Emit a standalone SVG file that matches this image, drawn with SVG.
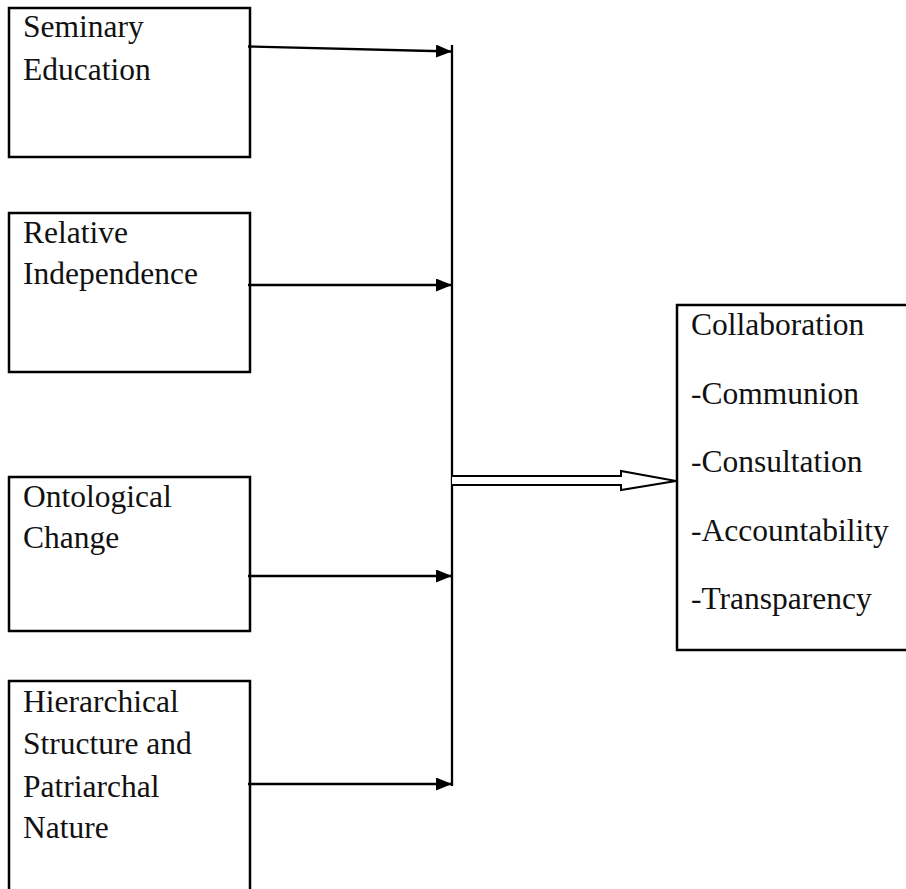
<svg xmlns="http://www.w3.org/2000/svg" width="906" height="889" viewBox="0 0 906 889">
<style>
.box{fill:#fff;stroke:#000;stroke-width:2.5}
.t{font-family:"Liberation Serif","Times New Roman",serif;font-size:31.5px;fill:#111}
.c{stroke:#000;stroke-width:2.3;fill:none}
</style>
<defs>
<marker id="ah" markerWidth="17" markerHeight="14" refX="16" refY="6.5" orient="auto" markerUnits="userSpaceOnUse">
<path d="M0,0 L16,6.5 L0,13 Z" fill="#000"/>
</marker>
</defs>
<rect width="906" height="889" fill="#fff"/>
<g id="n1"><rect class="box" x="9" y="8" width="241" height="149"/>
<text class="t" x="23" y="37">Seminary</text><text class="t" x="23" y="80">Education</text></g>
<g id="n2"><rect class="box" x="9" y="213" width="241" height="159"/>
<text class="t" x="23" y="243">Relative</text><text class="t" x="23" y="284">Independence</text></g>
<g id="n3"><rect class="box" x="9" y="477" width="241" height="154"/>
<text class="t" x="23" y="507">Ontological</text><text class="t" x="23" y="548">Change</text></g>
<g id="n4"><rect class="box" x="9" y="681" width="241" height="220"/>
<text class="t" x="23" y="712">Hierarchical</text><text class="t" x="23" y="754">Structure and</text><text class="t" x="23" y="797">Patriarchal</text><text class="t" x="23" y="838">Nature</text></g>
<g id="n5"><rect class="box" x="677" y="305" width="240" height="345"/>
<text class="t" x="691" y="335">Collaboration</text>
<text class="t" x="691" y="404">-Communion</text>
<text class="t" x="691" y="472">-Consultation</text>
<text class="t" x="691" y="541">-Accountability</text>
<text class="t" x="691" y="609">-Transparency</text></g>
<g id="connectors">
<line class="c" x1="452" y1="45" x2="452" y2="786"/>
<line class="c" x1="248" y1="46.5" x2="452" y2="51.5" marker-end="url(#ah)"/>
<line class="c" x1="248" y1="285" x2="452" y2="285" marker-end="url(#ah)"/>
<line class="c" x1="248" y1="576" x2="452" y2="576" marker-end="url(#ah)"/>
<line class="c" x1="248" y1="784" x2="452" y2="784" marker-end="url(#ah)"/>
<path d="M452,476 L621,476 L621,471 L676,481 L621,490 L621,485 L452,485" fill="#fff" stroke="#000" stroke-width="2" stroke-linejoin="miter"/>
</g>
</svg>
